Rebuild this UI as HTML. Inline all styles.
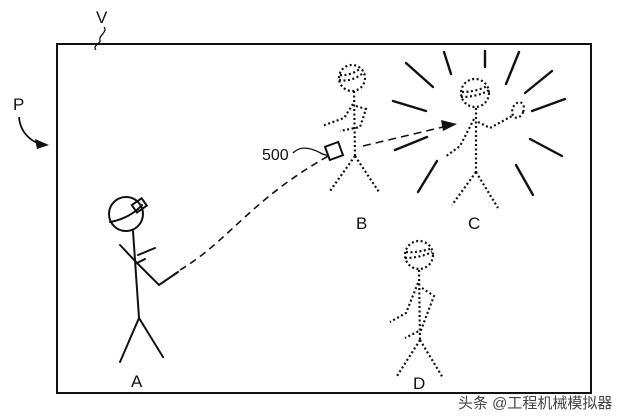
<!DOCTYPE html>
<html><head><meta charset="utf-8"><style>
html,body{margin:0;padding:0;background:#fff;}
svg{display:block;}
text{font-family:"Liberation Sans",Arial,sans-serif;fill:#111;}
</style></head><body>
<svg width="640" height="419" viewBox="0 0 640 419" xmlns="http://www.w3.org/2000/svg">
<rect x="0" y="0" width="640" height="419" fill="#fff"/>
<rect x="57" y="44" width="534" height="349" fill="none" stroke="#111" stroke-width="2"/>
<!-- V label -->
<text x="96" y="23" font-size="17">V</text>
<path d="M104,27 C108,32 98,36 100,40 C101,44 92,45 96,50" fill="none" stroke="#111" stroke-width="1.3"/>
<!-- P label -->
<text x="13" y="110" font-size="17">P</text>
<path d="M19,117 C20,130 28,140 40,144" fill="none" stroke="#111" stroke-width="1.8"/>
<polygon points="49,145 35,139 37,149" fill="#111"/>
<!-- 500 -->
<text x="262" y="160" font-size="16">500</text>
<path d="M293,153 C300,146 308,148 314,150 C320,152 324,156 328,155" fill="none" stroke="#111" stroke-width="1.3"/>
<!-- A solid -->
<g fill="none" stroke="#111" stroke-width="2" stroke-linecap="round">
<circle cx="126" cy="214" r="17"/>
<path d="M110,222 C122,220 134,214 142,205"/>
<rect x="133" y="201" width="12" height="9" transform="rotate(-35 139 205)"/>
<path d="M133,231 L139,318"/>
<path d="M139,318 L120,362 M139,318 L163,357"/>
<path d="M120,245 L137,263 L145,259 M138,255 L155,248"/>
<path d="M136,262 L159,285 L178,272"/>
</g>
<path d="M180,270 C230,240 250,200 330,155" fill="none" stroke="#111" stroke-width="1.6" stroke-dasharray="7,5"/>
<!-- B dotted -->
<g fill="none" stroke="#111" stroke-width="2.2" stroke-dasharray="2,2.5">
<circle cx="352" cy="78" r="13"/>
<path d="M339,80 C348,82 358,78 364,72 M340,75 C348,76 356,72 361,68"/>
<path d="M354,91 L355,156"/>
<path d="M355,156 L330,191 M355,156 L379,192"/>
<path d="M353,104 L344,118 L322,126"/>
<path d="M356,106 L366,109 L360,127 L340,131"/>
</g>
<rect x="327" y="144" width="14" height="14" transform="rotate(-20 334 151)" fill="#fff" stroke="#111" stroke-width="2"/>
<path d="M363,146 L443,127" fill="none" stroke="#111" stroke-width="1.6" stroke-dasharray="8,5"/>
<polygon points="457,124 441,120 443,131" fill="#111"/>
<!-- C dotted -->
<g fill="none" stroke="#111" stroke-width="2.2" stroke-dasharray="2,2.5">
<circle cx="475" cy="93" r="14"/>
<path d="M461,97 C470,97 482,95 489,90 M462,92 C470,92 480,90 487,86"/>
<path d="M476,108 L476,172"/>
<path d="M476,172 L452,205 M476,172 L498,208"/>
<path d="M474,119 L460,146 L445,157"/>
<path d="M478,122 L490,128 L512,116"/>
<ellipse cx="518" cy="110" rx="5.5" ry="8" transform="rotate(20 518 110)"/>
</g>
<!-- rays -->
<g stroke="#111" stroke-width="2.4" stroke-linecap="round">
<line x1="406" y1="63" x2="433" y2="87"/>
<line x1="444" y1="52" x2="451" y2="74"/>
<line x1="485" y1="51" x2="485" y2="67"/>
<line x1="519" y1="52" x2="506" y2="84"/>
<line x1="552" y1="71" x2="525" y2="93"/>
<line x1="565" y1="99" x2="532" y2="111"/>
<line x1="530" y1="139" x2="562" y2="156"/>
<line x1="516" y1="165" x2="533" y2="195"/>
<line x1="437" y1="161" x2="418" y2="192"/>
<line x1="427" y1="137" x2="395" y2="150"/>
<line x1="393" y1="101" x2="426" y2="111"/>
</g>
<!-- D dotted -->
<g fill="none" stroke="#111" stroke-width="2.2" stroke-dasharray="2,2.5">
<circle cx="419" cy="255" r="14"/>
<path d="M405,258 C414,258 424,256 432,252 M406,252 C414,253 422,251 430,249"/>
<path d="M419,270 L420,340"/>
<path d="M420,340 L397,376 M420,340 L443,378"/>
<path d="M418,283 L406,313 L390,322"/>
<path d="M422,288 L434,296 L421,330 L405,338"/>
</g>
<!-- labels -->
<text x="131" y="387" font-size="17">A</text>
<text x="356" y="229" font-size="17">B</text>
<text x="468" y="229" font-size="17">C</text>
<text x="413" y="389" font-size="17">D</text>
<text x="458" y="408" font-size="15" style="font-family:'Liberation Sans','Noto Sans CJK SC',sans-serif;fill:#444;">头条 @工程机械模拟器</text>
</svg>
</body></html>
